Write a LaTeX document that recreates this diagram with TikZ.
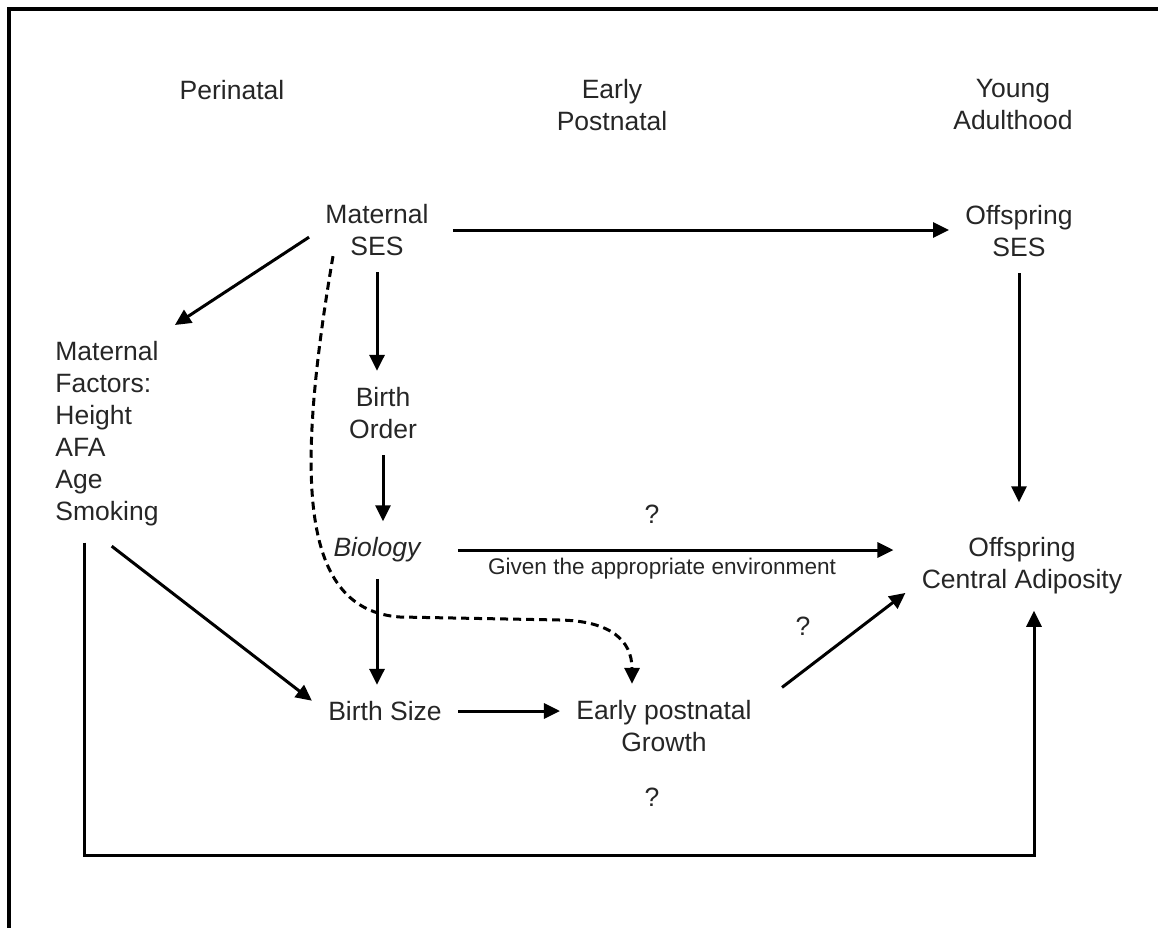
\documentclass[tikz,border=0pt]{standalone}
\usepackage{fontspec}
\setmainfont{Liberation Sans}
\usetikzlibrary{arrows.meta}
\tikzset{
  txt/.style={font=\fontsize{13.25}{16}\selectfont, text=black!85, align=center, inner sep=8pt},
  conn/.style={line width=1.5pt, -{Triangle[length=8pt,width=7.5pt]}},
  dashconn/.style={conn, dash pattern=on 4pt off 2.5pt},
}

\begin{document}
\begin{tikzpicture}[x=0.5pt,y=-0.5pt]
  \useasboundingbox (0,0) rectangle (1158,928);
  \draw[line width=2pt] (1158,8.5) -- (8.5,8.5) -- (8.5,928);

  \node[txt] (peri) at (232,90) {Perinatal};
  \node[txt] (epost) at (612,105) {Early\\Postnatal};
  \node[txt] (yadult) at (1013,105) {Young\\Adulthood};

  \node[txt] (mses) at (377,230) {Maternal\\SES};
  \node[txt] (oses) at (1019,231) {Offspring\\SES};
  \node[txt, anchor=north west, align=left] (mfac) at (39,325) {Maternal\\Factors:\\Height\\AFA\\Age\\Smoking};
  \node[txt] (bord) at (383,413) {Birth\\Order};
  \node[txt, font=\fontsize{13.25}{16}\selectfont\itshape] (bio) at (377,550) {Biology};
  \node[txt] (bsize) at (385,711) {Birth Size};
  \node[txt] (growth) at (664,726) {Early postnatal\\Growth};
  \node[txt] (cadip) at (1022,566) {Offspring\\Central Adiposity};

  \node[txt] (q1) at (652,514) {?};
  \node[txt, font=\fontsize{11.3}{13}\selectfont] (env) at (662,569) {Given the appropriate environment};
  \node[txt] (q2) at (803,626) {?};
  \node[txt] (q3) at (652,797) {?};

  \draw[conn, shorten <=4pt] (mses.east) -- (mses.east -| oses.west);
  \draw[conn] (mses.186) -- (mfac.north east);
  \draw[conn] (mses.south) -- (mses.south |- bord.north);
  \draw[conn] (bord.south) -- (bord.south |- bio.north);
  \draw[conn] (bio.south) -- (bio.south |- bsize.north);
  \draw[conn, shorten <=10.5pt, shorten >=6pt] (bio.east) -- (bio.east -| cadip.west);
  \draw[conn, shorten <=3pt] (mfac.south) -- (bsize.172);
  \draw[conn] (bsize.east) -- (bsize.east -| growth.west);
  \draw[conn, shorten <=8.8pt] (growth.15) -- (cadip.193);
  \draw[conn, shorten >=9.5pt] (oses.south) -- (oses.south |- cadip.north);
  \draw[conn] ([xshift=-11pt]mfac.south) -- ++(0,313) -| ([xshift=6pt]cadip.south);
  \draw[dashconn] ([shift={(-22pt,8pt)}]mses.south) .. controls (295,480) and (300,610) .. (400,617)
    -- (560,620) .. controls (610,621) and (632,640) .. ([xshift=-16pt]growth.north);
\end{tikzpicture}
\end{document}
